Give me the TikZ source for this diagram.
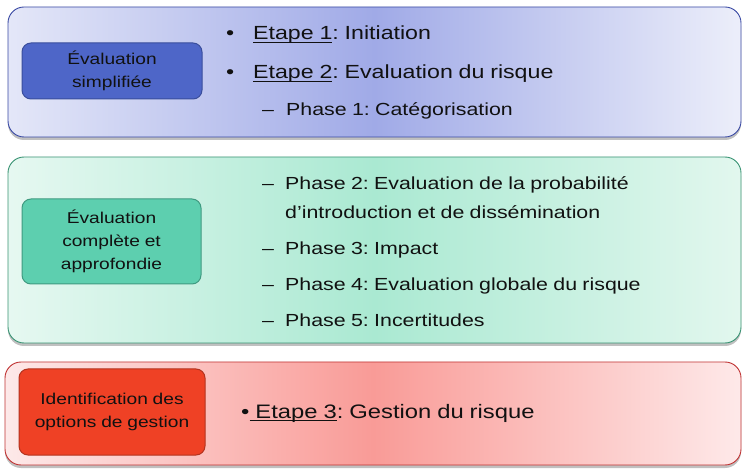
\documentclass[tikz,border=0pt]{standalone}
\usepackage{fontspec}
\setmainfont[FakeStretch=1.22,WordSpace=0.9]{Liberation Sans}
\usetikzlibrary{shadows}
\frenchspacing
\definecolor{bL}{HTML}{E4E7F8}
\definecolor{bM}{HTML}{A0AAE7}
\definecolor{bR}{HTML}{ECEEFA}
\definecolor{bBorder}{HTML}{3A4AA4}
\definecolor{bFill}{HTML}{4E66C8}
\definecolor{bFillB}{HTML}{3A4E9C}
\definecolor{gL}{HTML}{E6F8F1}
\definecolor{gM}{HTML}{AAE9D2}
\definecolor{gR}{HTML}{E2F7EE}
\definecolor{gBorder}{HTML}{3A9474}
\definecolor{gFill}{HTML}{5DCFAF}
\definecolor{gFillB}{HTML}{3F9A80}
\definecolor{rL}{HTML}{FDE9E9}
\definecolor{rM}{HTML}{F99B97}
\definecolor{rR}{HTML}{FEE9E9}
\definecolor{rBorder}{HTML}{C03434}
\definecolor{rFill}{HTML}{EF4125}
\definecolor{rFillB}{HTML}{B3331F}
\definecolor{txt}{HTML}{111111}
\newcommand\myul[1]{\setbox0\hbox{#1}\rlap{\rule[-2.8pt]{\wd0}{0.9pt}}\box0}
\tikzset{
  outerbox/.style={rounded corners=16pt, line width=0.9pt,
    drop shadow={shadow xshift=0pt, shadow yshift=-3pt, opacity=0.35, fill=black!70}},
  innerbox/.style={rounded corners=9pt, line width=1pt},
  lbl/.style={align=center, text=txt, font=\fontsize{15.7}{23}\selectfont, inner sep=0pt},
  big/.style={anchor=base west, inner sep=0pt, text=txt, font=\fontsize{19}{22}\selectfont},
  small/.style={anchor=base west, inner sep=0pt, text=txt, font=\fontsize{17.5}{20}\selectfont},
}
\begin{document}
\begin{tikzpicture}[x=1pt,y=-1pt]
\useasboundingbox (0,0) rectangle (748,473);
\fill[white] (0,0) rectangle (748,473);
% box 1
\path[outerbox, draw=bBorder, left color=bL, right color=bR, middle color=bM] (8,7) rectangle (741,137);
\path[innerbox, draw=bFillB, fill=bFill] (22,43) rectangle (202,99);
\node[lbl] (l1) at (112,71) {Évaluation\\simplifiée};
\node[big] (d1) at (226,40) {•};
\node[big] (e1) at (253,40) {\myul{Etape 1}: Initiation};
\node[big] (d2) at (226,79) {•};
\node[big] (e2) at (253,79) {\myul{Etape 2}: Evaluation du risque};
\node[small] (h1) at (262,115.5) {–};
\node[small] (p1) at (286,115.5) {Phase 1: Catégorisation};
% box 2
\path[outerbox, draw=gBorder, left color=gL, right color=gR, middle color=gM] (8,157) rectangle (741,343);
\path[innerbox, draw=gFillB, fill=gFill] (22,199) rectangle (201,284);
\node[lbl] (l2) at (111.5,241.5) {Évaluation\\complète et\\approfondie};
\node[small] (h2) at (262,190) {–};
\node[small] (p2) at (285,190) {Phase 2: Evaluation de la probabilité};
\node[small] (p2b) at (285,219) {d’introduction et de dissémination};
\node[small] (h3) at (262,255) {–};
\node[small] (p3) at (285,255) {Phase 3: Impact};
\node[small] (h4) at (262,291) {–};
\node[small] (p4) at (285,291) {Phase 4: Evaluation globale du risque};
\node[small] (h5) at (262,327) {–};
\node[small] (p5) at (285,327) {Phase 5: Incertitudes};
% box 3
\path[outerbox, draw=rBorder, left color=rL, right color=rR, middle color=rM] (5,362) rectangle (741,465);
\path[innerbox, draw=rFillB, fill=rFill] (19,369) rectangle (205,455);
\node[lbl] (l3) at (112,412) {Identification des\\options de gestion};
\node[big, font=\fontsize{19.5}{22}\selectfont] (e3) at (241,418) {•\myul{ Etape 3}: Gestion du risque};
\end{tikzpicture}
\end{document}
